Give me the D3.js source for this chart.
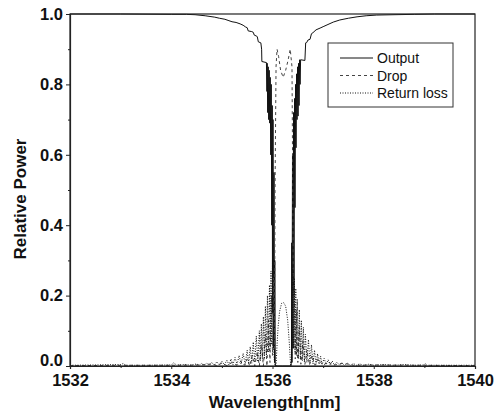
<!DOCTYPE html>
<html>
<head>
<meta charset="utf-8">
<script src="https://cdn.jsdelivr.net/npm/d3@7"></script>
<style>
  body { margin: 0; background: #fff; }
  text { font-family: "Liberation Sans", Arial, sans-serif; }
</style>
</head>
<body>
<script>
// ticks
const xTicks = [1532, 1534, 1536, 1538, 1540];
const yTicks = [0.0, 0.2, 0.4, 0.6, 0.8, 1.0];

// Output (through port)
const outWl = [1532, 1533, 1534, 1534.3, 1534.47, 1534.67, 1534.86, 1534.95, 1535.06, 1535.14, 1535.2, 1535.28, 1535.36,
  1535.42, 1535.47, 1535.5, 1535.52, 1535.59, 1535.62, 1535.64, 1535.69, 1535.70, 1535.72, 1535.77, 1535.785, 1535.79, 1535.88,
  1535.89, 1535.895, 1535.905, 1535.915, 1535.925, 1535.935, 1535.945, 1535.955, 1535.965, 1535.975, 1535.985, 1535.995,
  1536.0, 1536.01, 1536.02, 1536.03, 1536.04, 1536.045, 1536.055, 1536.2, 1536.365,
  1536.375, 1536.38, 1536.385, 1536.395, 1536.405, 1536.415, 1536.425, 1536.435, 1536.445, 1536.455, 1536.465, 1536.475,
  1536.485, 1536.495, 1536.505, 1536.515, 1536.525, 1536.535, 1536.545, 1536.555, 1536.64,
  1536.655, 1536.676, 1536.70, 1536.741, 1536.77, 1536.80, 1536.86, 1536.94, 1537.0, 1537.077, 1537.2, 1537.33, 1537.5,
  1537.67, 1537.85, 1538.06, 1538.4, 1538.8, 1539.2, 1540];
const outVal = [1.0, 1.0, 0.999, 0.999, 0.998, 0.995, 0.991, 0.988, 0.985, 0.981, 0.978, 0.976, 0.972,
  0.968, 0.963, 0.961, 0.952, 0.95, 0.948, 0.94, 0.937, 0.935, 0.921, 0.918, 0.9, 0.865, 0.862,
  0.78, 0.86, 0.72, 0.85, 0.70, 0.84, 0.69, 0.82, 0.60, 0.80, 0.40, 0.74,
  0.15, 0.70, 0.05, 0.55, 0.01, 0.30, 0.0, 0.0, 0.0,
  0.02, 0.35, 0.01, 0.60, 0.05, 0.72, 0.20, 0.76, 0.45, 0.80, 0.62, 0.83,
  0.70, 0.85, 0.71, 0.86, 0.74, 0.87, 0.80, 0.87, 0.868,
  0.918, 0.919, 0.926, 0.928, 0.944, 0.947, 0.955, 0.96, 0.964, 0.969, 0.977, 0.983, 0.988,
  0.992, 0.995, 0.997, 0.998, 0.999, 1.0, 1.0];

// Drop port
const dropWl = [1532, 1533, 1534, 1534.6, 1534.8, 1534.9, 1535.0, 1535.1, 1535.2, 1535.3, 1535.38, 1535.45, 1535.5, 1535.55,
  1535.6, 1535.65, 1535.7, 1535.74, 1535.78, 1535.82, 1535.86, 1535.89, 1535.92, 1535.95, 1535.98, 1536.0, 1536.02, 1536.04,
  1536.05, 1536.07, 1536.09, 1536.12, 1536.16, 1536.21, 1536.26, 1536.31, 1536.35, 1536.385, 1536.40, 1536.42, 1536.43,
  1536.45, 1536.47, 1536.50, 1536.53, 1536.56, 1536.60, 1536.64, 1536.68, 1536.73, 1536.78, 1536.84, 1536.9, 1537.0,
  1537.1, 1537.2, 1537.4, 1537.6, 1538, 1539, 1540];
const dropVal = [0.001, 0.002, 0.002, 0.003, 0.006, 0.001, 0.008, 0.001, 0.01, 0.002, 0.014, 0.002, 0.02, 0.0,
  0.03, 0.0, 0.04, 0.0, 0.06, 0.0, 0.09, 0.0, 0.13, 0.01, 0.20, 0.03, 0.25, 0.05,
  0.50, 0.85, 0.90, 0.88, 0.84, 0.82, 0.84, 0.87, 0.90, 0.85, 0.50, 0.05, 0.22,
  0.02, 0.16, 0.01, 0.11, 0.005, 0.07, 0.004, 0.045, 0.003, 0.03, 0.002, 0.02, 0.002,
  0.012, 0.002, 0.008, 0.002, 0.003, 0.002, 0.001];

// Return loss
const rlWl = [1532, 1532.5, 1533, 1533.05, 1533.1, 1533.5, 1534, 1534.05, 1534.1, 1534.3, 1534.4, 1534.5, 1534.55, 1534.6,
  1534.65, 1534.7, 1534.75, 1534.8, 1534.85, 1534.9, 1534.95, 1535.0, 1535.05, 1535.1, 1535.14, 1535.18, 1535.22, 1535.26,
  1535.30, 1535.34, 1535.38, 1535.42, 1535.46, 1535.50, 1535.53, 1535.56, 1535.59, 1535.62, 1535.65, 1535.68, 1535.71,
  1535.74, 1535.76, 1535.78, 1535.80, 1535.82, 1535.84, 1535.86, 1535.88, 1535.90, 1535.92, 1535.94, 1535.955, 1535.97,
  1535.985, 1536.0, 1536.02, 1536.04, 1536.06,
  1536.07, 1536.09, 1536.11, 1536.14, 1536.18, 1536.22, 1536.26, 1536.30, 1536.33, 1536.35, 1536.36,
  1536.38, 1536.40, 1536.415, 1536.43, 1536.445, 1536.46, 1536.475, 1536.49, 1536.51, 1536.53, 1536.55, 1536.57, 1536.59,
  1536.61, 1536.63, 1536.65, 1536.68, 1536.71, 1536.74, 1536.77, 1536.80, 1536.83, 1536.86, 1536.89, 1536.92, 1536.95,
  1536.98, 1537.02, 1537.06, 1537.10, 1537.14, 1537.18, 1537.22, 1537.27, 1537.32, 1537.37, 1537.42, 1537.48, 1537.54,
  1537.6, 1537.66, 1537.72, 1537.8, 1537.9, 1538.0, 1538.2, 1538.4, 1538.6, 1538.8, 1539.0, 1539.02, 1539.05, 1539.4, 1540];
const rlVal = [0.002, 0.003, 0.004, 0.007, 0.002, 0.002, 0.003, 0.009, 0.003, 0.004, 0.002, 0.006, 0.002, 0.007,
  0.002, 0.008, 0.002, 0.010, 0.002, 0.012, 0.003, 0.014, 0.003, 0.017, 0.003, 0.020, 0.004, 0.024,
  0.004, 0.030, 0.005, 0.036, 0.005, 0.045, 0.006, 0.055, 0.008, 0.068, 0.010, 0.085, 0.012,
  0.10, 0.015, 0.12, 0.02, 0.14, 0.02, 0.17, 0.03, 0.20, 0.04, 0.23, 0.05, 0.27,
  0.06, 0.30, 0.05, 0.01, 0.0,
  0.0, 0.06, 0.11, 0.155, 0.178, 0.18, 0.17, 0.13, 0.07, 0.02, 0.0,
  0.02, 0.28, 0.05, 0.25, 0.04, 0.22, 0.03, 0.19, 0.02, 0.16, 0.02, 0.13, 0.015,
  0.11, 0.012, 0.09, 0.01, 0.075, 0.008, 0.06, 0.006, 0.045, 0.005, 0.035, 0.005, 0.028,
  0.004, 0.022, 0.004, 0.018, 0.003, 0.014, 0.003, 0.011, 0.003, 0.009, 0.002, 0.008, 0.002,
  0.007, 0.002, 0.006, 0.002, 0.005, 0.002, 0.004, 0.002, 0.004, 0.002, 0.003, 0.007, 0.002, 0.002, 0.002];

const series = [
  { name: 'Output', wl: outWl, val: outVal, color: '#111', dash: null, width: 1 },
  { name: 'Drop', wl: dropWl, val: dropVal, color: '#444', dash: '3,3', width: 1 },
  { name: 'Return loss', wl: rlWl, val: rlVal, color: '#111', dash: '1,1.5', width: 1 }
];

const W = 502, H = 418;
const margin = { left: 70, right: 27, top: 14, bottom: 52 };
const pw = W - margin.left - margin.right;
const ph = H - margin.top - margin.bottom;

const svg = d3.select('body').append('svg')
  .attr('width', W)
  .attr('height', H);

const x = d3.scaleLinear().domain([1532, 1540]).range([margin.left, margin.left + pw]);
const y = d3.scaleLinear().domain([0, 1]).range([margin.top + ph, margin.top]);

svg.append('clipPath').attr('id', 'clip')
  .append('rect')
  .attr('x', margin.left).attr('y', margin.top - 1)
  .attr('width', pw).attr('height', ph + 1);

// data lines
const line = d3.line().x(d => x(d[0])).y(d => y(d[1]));
const g = svg.append('g').attr('clip-path', 'url(#clip)');
series.forEach(s => {
  g.append('path')
    .datum(s.wl.map((w, i) => [w, s.val[i]]))
    .attr('fill', 'none')
    .attr('stroke', s.color)
    .attr('stroke-width', s.width)
    .attr('stroke-dasharray', s.dash)
    .attr('d', line);
});

// frame
svg.append('rect')
  .attr('x', margin.left).attr('y', margin.top)
  .attr('width', pw).attr('height', ph)
  .attr('fill', 'none')
  .attr('stroke', '#222')
  .attr('stroke-width', 1.2);

// y axis
const yAxis = svg.append('g')
  .attr('transform', `translate(${margin.left},0)`)
  .call(d3.axisLeft(y).tickValues(yTicks).tickFormat(d3.format('.1f')).tickSize(4).tickPadding(3));
svg.append('g')
  .attr('transform', `translate(${margin.left},0)`)
  .call(d3.axisLeft(y).tickValues([0.1, 0.3, 0.5, 0.7, 0.9]).tickFormat('').tickSize(2))
  .call(a => a.select('.domain').remove());
// lift the 0.0 label so it clears the 1532 label
yAxis.selectAll('.tick text').filter(d => d === 0).attr('dy', '-0.05em');

// x axis
svg.append('g')
  .attr('transform', `translate(0,${margin.top + ph})`)
  .call(d3.axisBottom(x).tickValues(xTicks).tickFormat(d3.format('d')).tickSize(3).tickPadding(5));
svg.append('g')
  .attr('transform', `translate(0,${margin.top + ph})`)
  .call(d3.axisBottom(x).tickValues([1533, 1535, 1537, 1539]).tickFormat('').tickSize(2))
  .call(a => a.select('.domain').remove());

svg.selectAll('.domain').attr('stroke', '#222').attr('stroke-width', 1.2);
svg.selectAll('.tick line').attr('stroke', '#222');
svg.selectAll('.tick text')
  .attr('font-size', 16.5)
  .attr('font-weight', 'bold')
  .attr('font-family', '"Liberation Sans", Arial, sans-serif')
  .attr('fill', '#111');

// axis titles
svg.append('text')
  .attr('x', margin.left + pw / 2 + 2)
  .attr('y', 408)
  .attr('text-anchor', 'middle')
  .attr('font-size', 17)
  .attr('font-weight', 'bold')
  .attr('fill', '#111')
  .text('Wavelength[nm]');

svg.append('text')
  .attr('transform', `translate(26,${199}) rotate(-90)`)
  .attr('text-anchor', 'middle')
  .attr('font-size', 17)
  .attr('font-weight', 'bold')
  .attr('fill', '#111')
  .text('Relative Power');

// legend
const leg = svg.append('g');
leg.append('rect')
  .attr('x', 328).attr('y', 43)
  .attr('width', 125).attr('height', 64)
  .attr('fill', '#fff')
  .attr('stroke', '#333')
  .attr('stroke-width', 1);
series.forEach((s, i) => {
  const ly = 58 + i * 17.5;
  leg.append('line')
    .attr('x1', 340).attr('x2', 373)
    .attr('y1', ly).attr('y2', ly)
    .attr('stroke', s.color)
    .attr('stroke-width', 1)
    .attr('stroke-dasharray', s.dash);
  leg.append('text')
    .attr('x', 377).attr('y', ly + 5)
    .attr('font-size', 14)
    .attr('fill', '#111')
    .text(s.name);
});
</script>
</body>
</html>
